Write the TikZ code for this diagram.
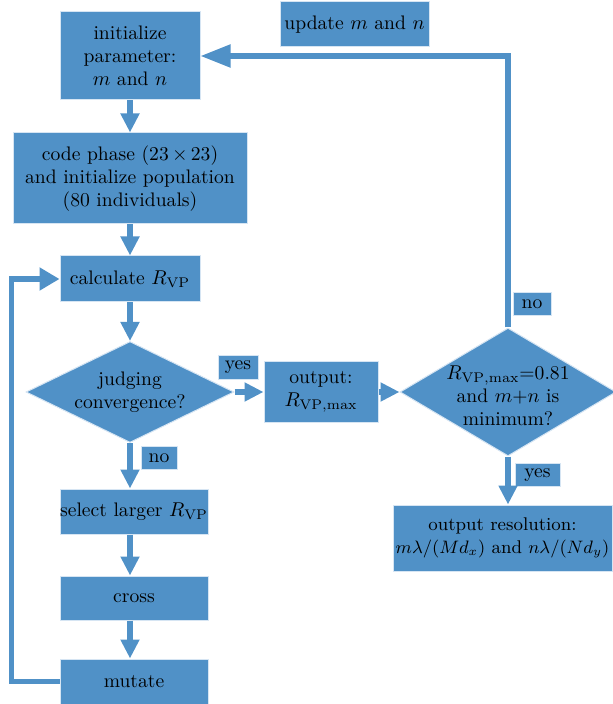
\documentclass[tikz,border=0pt]{standalone}
\usepackage{tikz}
\usetikzlibrary{arrows.meta,shapes.geometric}
\definecolor{boxblue}{RGB}{80,145,199}
\definecolor{glow}{RGB}{214,229,243}
\tikzset{
	box/.style={draw=glow, line width=0.5pt, fill=boxblue, inner sep=0pt, align=center, font=\fontsize{9.8}{11.5}\selectfont},
	tag/.style={box, minimum height=11.5pt},
	say/.style={inner sep=0pt, align=center, font=\fontsize{9.8}{11.5}\selectfont},
	flow/.style={draw=boxblue, line width=2.6pt, -{Triangle[length=9.5pt,width=9pt]}},
	loopflow/.style={flow, -{Triangle[length=10pt,width=11pt]}},
	bigflow/.style={flow, -{Triangle[length=15pt,width=11pt]}}
}

\begin{document}
\begin{tikzpicture}[x=0.5pt, y=-0.5pt]
		%%%%% START %%%%%
		\useasboundingbox (0,0) rectangle (613,704);
		
		\node[box, minimum width=70pt, minimum height=44pt] (init) at (130,56) {initialize\\parameter:\\$m$ and $n$};
		\node[box, minimum width=74.5pt, minimum height=22.5pt] (upd) at (354.5,24.5) {update $m$ and $n$};
		\node[box, minimum width=117pt, minimum height=45.5pt] (code) at (130,178.5) {code phase (23\,$\times$\,23)\\and initialize population\\(80 individuals)};
		\node[box, minimum width=70pt, minimum height=23pt] (calc) at (130,279) {calculate $R_{\mathrm{VP}}$};
		
		\node[box, diamond, minimum width=104pt, minimum height=50.5pt] (judge) at (130,392) {};
		\node[say] (judgetxt) at (judge) {judging\\convergence?};
		\node[tag, minimum width=20pt] (yes1) at (238,367.5) {yes};
		\node[box, minimum width=57pt, minimum height=30.5pt] (out) at (321,392) {output:\\$R_{\mathrm{VP,max}}$};
		
		\node[box, diamond, minimum width=108pt, minimum height=64pt] (chk) at (508,392) {};
		\node[say] (chktxt) at ([yshift=-2]chk.center) {$R_{\mathrm{VP,max}}$=0.81\\and $m$+$n$ is\\minimum?};
		\node[tag, minimum width=19pt] (no2) at (532,304) {no};
		\node[tag, minimum width=22.5pt] (yes2) at (537.5,475) {yes};
		\node[box, minimum width=109.5pt, minimum height=33pt, font=\fontsize{9.2}{11.5}\selectfont] (res) at (502.5,538) {output resolution:\\$m\lambda/(Md_x)$ and $n\lambda/(Nd_y)$};
		
		\node[tag, minimum width=18pt] (no1) at (159,458) {no};
		\node[box, minimum width=74pt, minimum height=22.5pt] (sel) at (134,511.5) {select larger $R_{\mathrm{VP}}$};
		\node[box, minimum width=74pt, minimum height=22pt] (cross) at (134,598) {cross};
		\node[box, minimum width=74pt, minimum height=22.5pt] (mut) at (134,681.5) {mutate};
		
		% main line
		\draw[flow] (init) -- (code);
		\draw[flow] (code) -- (calc);
		\draw[flow] (calc) -- (judge);
		\draw[flow] (judge.south) -- (judge.south |- sel.north);
		\draw[flow] (sel.south -| judge.south) -- (cross.north -| judge.south);
		\draw[flow] (cross.south -| judge.south) -- (mut.north -| judge.south);
		\draw[loopflow] (mut.west) -- ++(-48,0) |- (calc.west);
		
		% right branch
		\draw[flow] (judge.east) -- (out.west);
		\draw[flow] (out.east) -- (chk.west);
		\draw[flow] (chk.south) -- (chk.south |- res.north);
		\draw[bigflow] (chk.north) |- (init.east);
		
		%%%%% END %%%%%
	\end{tikzpicture}
\end{document}
